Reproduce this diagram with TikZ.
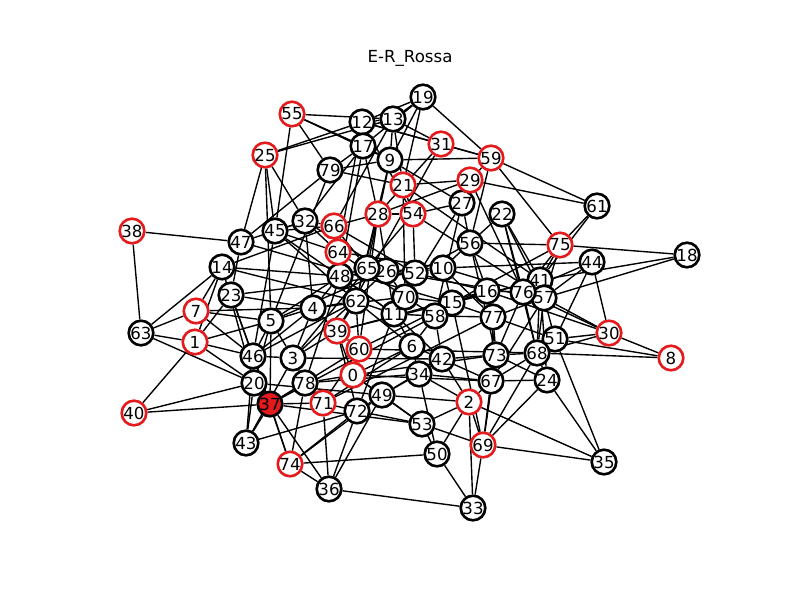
\documentclass[tikz,border=0pt]{standalone}
\usepackage{fontspec}
\setmainfont{DejaVu Sans}
\usetikzlibrary{backgrounds}
\definecolor{rossa}{RGB}{228,26,28}
\tikzset{
  vnode/.style={circle, draw=black, fill=white, line width=1.9pt, minimum size=0.245in, inner sep=0pt, font=\fontsize{12}{14}\selectfont},
  rnode/.style={vnode, draw=rossa},
  fnode/.style={vnode, fill=rossa},
  edge/.style={line width=1pt, black}
}

\begin{document}
\begin{tikzpicture}[x=0.01in, y=-0.01in]
		%%%%% FRAME %%%%%
		\useasboundingbox (0,0) rectangle (800,600);
		\node[font=\fontsize{12}{14}\selectfont] (title) at (410,58) {E-R\_Rossa};
		
		%%%%% NODES %%%%%
		\node[rnode] (n0) at (353,375) {0};
		\node[rnode] (n1) at (195,342) {1};
		\node[rnode] (n2) at (469,402) {2};
		\node[vnode] (n3) at (293,358) {3};
		\node[vnode] (n4) at (313,308) {4};
		\node[vnode] (n5) at (271,321) {5};
		\node[vnode] (n6) at (412,346) {6};
		\node[rnode] (n7) at (196,311) {7};
		\node[rnode] (n8) at (671,358) {8};
		\node[vnode] (n9) at (390,160) {9};
		\node[vnode] (n10) at (443,268) {10};
		\node[vnode] (n11) at (394,314) {11};
		\node[vnode] (n12) at (362,122) {12};
		\node[vnode] (n13) at (393,119) {13};
		\node[vnode] (n14) at (222,267) {14};
		\node[vnode] (n15) at (452,303) {15};
		\node[vnode] (n16) at (487,291) {16};
		\node[vnode] (n17) at (363,146) {17};
		\node[vnode] (n18) at (687,255) {18};
		\node[vnode] (n19) at (423,97) {19};
		\node[vnode] (n20) at (254,383) {20};
		\node[rnode] (n21) at (403,185) {21};
		\node[vnode] (n22) at (502,214) {22};
		\node[vnode] (n23) at (231,295) {23};
		\node[vnode] (n24) at (547,380) {24};
		\node[rnode] (n25) at (265,155) {25};
		\node[vnode] (n26) at (386,271) {26};
		\node[vnode] (n27) at (462,203) {27};
		\node[rnode] (n28) at (378,214) {28};
		\node[rnode] (n29) at (470,180) {29};
		\node[rnode] (n30) at (609,333) {30};
		\node[rnode] (n31) at (441,144) {31};
		\node[vnode] (n32) at (305,221) {32};
		\node[vnode] (n33) at (473,508) {33};
		\node[vnode] (n34) at (419,374) {34};
		\node[vnode] (n35) at (604,462) {35};
		\node[vnode] (n36) at (329,489) {36};
		\node[fnode] (n37) at (270,404) {37};
		\node[rnode] (n38) at (132,231) {38};
		\node[rnode] (n39) at (337,331) {39};
		\node[rnode] (n40) at (134,413) {40};
		\node[vnode] (n41) at (540,280) {41};
		\node[vnode] (n42) at (442,359) {42};
		\node[vnode] (n43) at (246,443) {43};
		\node[vnode] (n44) at (592,262) {44};
		\node[vnode] (n45) at (275,231) {45};
		\node[vnode] (n46) at (253,356) {46};
		\node[vnode] (n47) at (241,242) {47};
		\node[vnode] (n48) at (340,276) {48};
		\node[vnode] (n49) at (382,395) {49};
		\node[vnode] (n50) at (437,454) {50};
		\node[vnode] (n51) at (555,339) {51};
		\node[vnode] (n52) at (415,273) {52};
		\node[vnode] (n53) at (422,424) {53};
		\node[rnode] (n54) at (413,214) {54};
		\node[rnode] (n55) at (292,114) {55};
		\node[vnode] (n56) at (470,243) {56};
		\node[vnode] (n57) at (544,298) {57};
		\node[vnode] (n58) at (435,316) {58};
		\node[rnode] (n59) at (491,158) {59};
		\node[rnode] (n60) at (359,349) {60};
		\node[vnode] (n61) at (597,206) {61};
		\node[vnode] (n62) at (356,301) {62};
		\node[vnode] (n63) at (141,333) {63};
		\node[rnode] (n64) at (338,252) {64};
		\node[vnode] (n65) at (367,268) {65};
		\node[rnode] (n66) at (334,226) {66};
		\node[vnode] (n67) at (491,381) {67};
		\node[vnode] (n68) at (537,353) {68};
		\node[rnode] (n69) at (483,445) {69};
		\node[vnode] (n70) at (405,297) {70};
		\node[rnode] (n71) at (323,403) {71};
		\node[vnode] (n72) at (357,411) {72};
		\node[vnode] (n73) at (496,355) {73};
		\node[rnode] (n74) at (290,464) {74};
		\node[rnode] (n75) at (560,245) {75};
		\node[vnode] (n76) at (523,292) {76};
		\node[vnode] (n77) at (493,317) {77};
		\node[vnode] (n78) at (305,383) {78};
		\node[vnode] (n79) at (330,170) {79};
		
		%%%%% EDGES %%%%%
		\begin{scope}[on background layer]
		\foreach \a/\b in {38/47,38/63,63/14,63/7,63/1,63/20,40/1,40/20,40/37,
			7/4,7/46,7/14,7/5,1/46,1/5,1/14,1/20,1/23,14/48,14/62,14/66,
			23/46,23/4,23/52,23/37,47/25,47/79,47/32,47/23,47/15,
			45/25,45/64,45/66,45/46,45/62,45/11,25/12,25/13,25/32,25/5,
			55/79,55/13,55/17,55/9,55/45,19/12,19/13,19/9,19/59,19/21,19/17,
			12/13,12/17,12/31,12/59,12/54,12/64,13/9,13/31,13/21,13/66,
			17/9,17/32,17/79,17/28,17/48,9/59,9/79,9/65,9/62,9/27,
			31/59,31/28,31/39,59/29,59/61,59/75,59/56,29/61,29/21,29/28,29/27,29/76,
			21/79,21/54,21/70,21/41,28/54,28/66,28/62,28/11,28/60,
			54/27,54/52,54/57,54/65,27/56,27/11,27/58,
			22/56,22/41,22/76,22/57,22/68,56/75,56/10,56/16,56/73,56/52,
			61/75,61/41,75/18,75/41,75/76,75/57,75/15,18/41,18/57,
			44/10,44/57,44/76,44/51,44/30,30/8,30/51,30/68,30/57,30/76,30/16,
			8/68,8/51,35/24,35/51,35/2,35/69,24/68,24/67,24/69,24/73,24/41,
			69/2,69/67,69/73,69/68,69/33,69/53,69/15,33/50,33/2,33/36,
			50/74,50/53,50/2,50/34,53/2,53/72,53/49,53/37,53/0,
			36/72,36/49,36/71,36/37,36/74,74/72,74/49,74/37,74/78,74/46,
			43/37,43/20,43/46,43/72,43/3,37/71,37/78,37/20,37/46,37/5,37/60,37/58,
			20/46,20/5,20/49,20/14,46/3,46/5,46/4,46/62,
			3/5,3/78,3/4,3/39,3/65,3/26,3/42,78/71,78/0,78/48,78/34,
			71/72,71/60,71/6,71/77,72/49,72/39,72/11,0/60,0/49,0/39,0/6,0/67,0/73,
			49/34,49/2,49/42,60/39,60/62,60/15,60/68,39/4,39/62,39/16,39/41,
			4/5,4/48,4/62,4/70,4/32,5/48,5/26,5/79,32/66,32/64,32/45,32/26,
			66/64,66/65,66/52,64/48,64/10,64/70,48/65,48/62,48/11,
			65/26,65/52,65/57,26/52,26/70,26/10,52/10,52/70,52/16,
			10/15,10/76,10/77,70/11,70/58,70/15,11/58,11/6,11/42,
			58/15,58/6,58/42,58/77,15/16,15/77,15/41,16/76,16/77,16/73,
			76/57,76/41,76/68,76/73,41/57,41/68,57/51,57/68,57/77,57/67,
			77/73,77/67,77/51,73/68,73/67,73/42,68/51,68/67,
			67/2,67/42,67/34,2/42,2/34,42/6,42/34,6/34,6/62,62/11}
			\draw[edge] (n\a) -- (n\b);
		\end{scope}
	\end{tikzpicture}
\end{document}
